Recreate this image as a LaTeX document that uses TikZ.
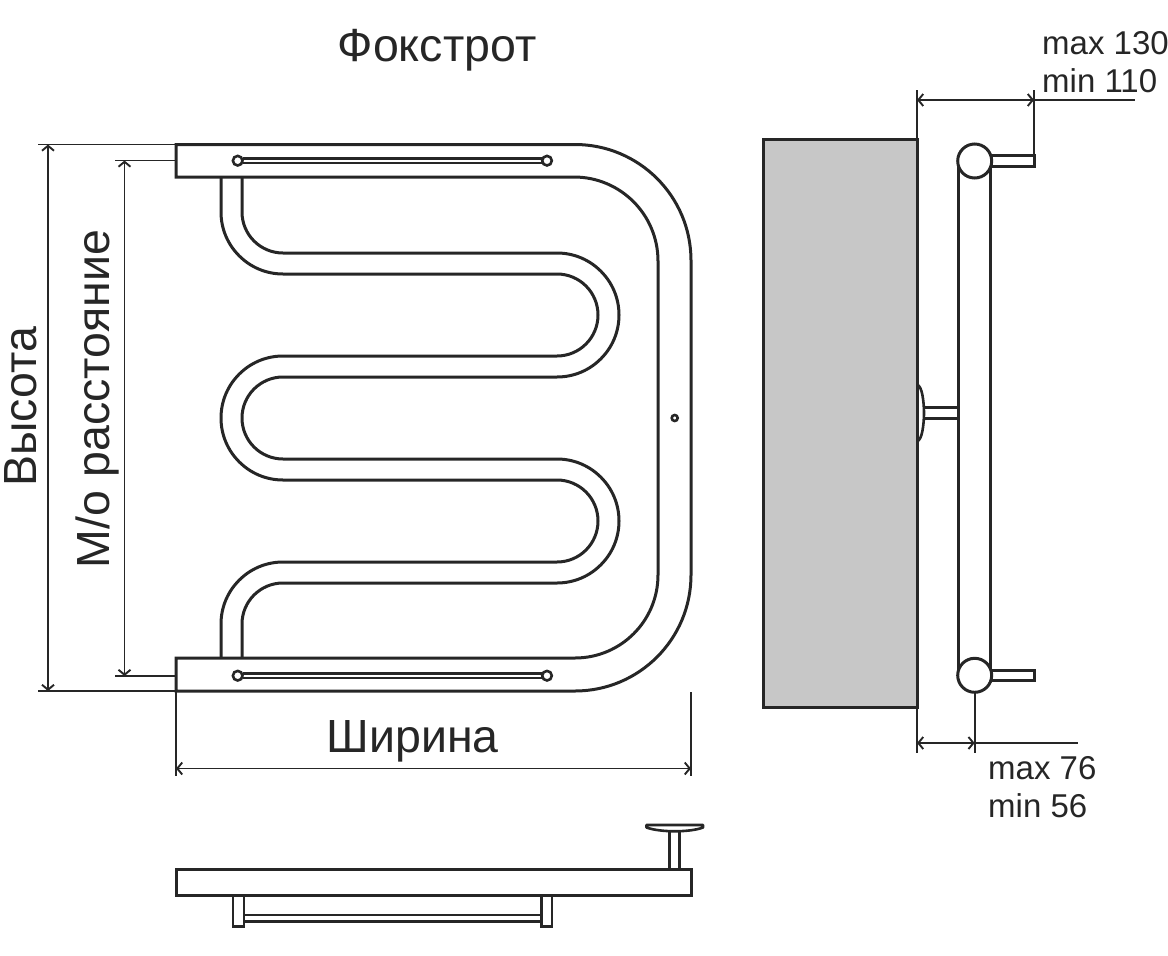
\documentclass[tikz,border=0pt]{standalone}
\usepackage{fontspec}
\setmainfont{Liberation Sans}
\usetikzlibrary{arrows.meta}
\tikzset{
  pipe/.style={line width=3pt,draw=black!85},
  rail/.style={line width=2.6pt,draw=black!85},
  dimline/.style={line width=1.9pt,draw=black!85},
  dimarrow/.style={dimline,{Straight Barb[length=5pt,width=12pt]}-{Straight Barb[length=5pt,width=12pt]}},
  bigtext/.style={font=\fontsize{46.5}{46.5}\selectfont,text=black!85,inner sep=0pt},
  smalltext/.style={font=\fontsize{33}{33}\selectfont,text=black!85,inner sep=0pt,anchor=west},
}
\begin{document}
\begin{tikzpicture}[x=1pt,y=-1pt]
\useasboundingbox (0,0) rectangle (1168,956);
\node [bigtext] (title) at (437,50) {Фокстрот};
\node [bigtext] (width) at (412.5,741) {Ширина};
\node [bigtext,rotate=90] (height) at (21,407) {Высота};
\node [bigtext,rotate=90] (axis) at (97,399) {М/о расстояние};
\node [smalltext] (maxtop) at (1042,43) {max 130};
\node [smalltext] (mintop) at (1042,81) {min 110};
\node [smalltext] (maxbot) at (988,768) {max 76};
\node [smalltext] (minbot) at (988,806) {min 56};

% front view: frame
\draw [pipe] (176,144.5) -- (575,144.5) arc[start angle=-90,end angle=0,radius=116]
  -- (691,575) arc[start angle=0,end angle=90,radius=116] -- (176,691) -- (176,658)
  -- (575,658) arc[start angle=90,end angle=0,radius=83]
  -- (658,261) arc[start angle=0,end angle=-90,radius=84] -- (176,177) -- cycle;

% front view: coil
\draw [pipe] (221,177) -- (221,212) arc[start angle=180,end angle=90,radius=62]
  -- (557,274) arc[start angle=-90,end angle=90,radius=41]
  -- (283,356) arc[start angle=-90,end angle=-270,radius=62]
  -- (557,480) arc[start angle=-90,end angle=90,radius=41]
  -- (283,562) arc[start angle=-90,end angle=-180,radius=62] -- (221,658);
\draw [pipe] (242,177) -- (242,212) arc[start angle=180,end angle=90,radius=41]
  -- (557,253) arc[start angle=-90,end angle=90,radius=62]
  -- (283,377) arc[start angle=-90,end angle=-270,radius=41]
  -- (557,459) arc[start angle=-90,end angle=90,radius=62]
  -- (283,583) arc[start angle=-90,end angle=-180,radius=41] -- (242,658);

% front view: rails
\foreach \y in {160.7,675.7} {
  \draw [rail] (243,\y-2.3) -- (542,\y-2.3);
  \draw [rail] (243,\y+2.3) -- (542,\y+2.3);
  \draw [rail,fill=white] (237.7,\y) circle (4.8);
  \draw [rail,fill=white] (547,\y) circle (4.8);
}
\draw [rail] (674.7,418) circle (3);

% front view: dimensions
\coordinate (heighttop) at (48,144.5);
\coordinate (heightbot) at (48,691);
\coordinate (axistop) at (124.5,160.5);
\coordinate (axisbot) at (124.5,676);
\coordinate (widthleft) at (176,768.5);
\coordinate (widthright) at (691,768.5);
\draw [dimline] (38,144.5) -- (176,144.5);
\draw [dimline] (38,691) -- (176,691);
\draw [dimline] (115,160.5) -- (176,160.5);
\draw [dimline] (115,676) -- (176,676);
\draw [dimline] (176,691) -- (176,776);
\draw [dimline] (691,692) -- (691,776);
\draw [dimarrow] (heighttop) -- (heightbot);
\draw [dimarrow] (axistop) -- (axisbot);
\draw [dimarrow] (widthleft) -- (widthright);

% side view
\draw [pipe,fill=black!22] (763,139) rectangle (917,707);
\draw [rail] (917,385) .. controls (922,385) and (924,402) .. (924,413)
  .. controls (924,424) and (922,441) .. (917,441);
\draw [rail] (924,407.7) -- (958,407.7);
\draw [rail] (924,418.3) -- (958,418.3);
\draw [pipe] (958,161) -- (958,675);
\draw [pipe] (990.7,161) -- (990.7,675);
\draw [pipe] (990,155) -- (1034.5,155) -- (1034.5,166) -- (990,166);
\draw [pipe] (990,670) -- (1034.5,670) -- (1034.5,680.7) -- (990,680.7);
\draw [pipe,fill=white] (974.7,161) circle (17);
\draw [pipe,fill=white] (974.7,675.3) circle (17);

% side view: dimensions
\coordinate (depthleft) at (917,100);
\coordinate (depthright) at (1034,100);
\coordinate (gapleft) at (917,743);
\coordinate (gapright) at (974.7,743);
\draw [dimline] (917,90) -- (917,139);
\draw [dimline] (1034,90) -- (1034,155);
\draw [dimline] (917,707) -- (917,753);
\draw [dimline] (974.7,692) -- (974.7,753);
\draw [dimline] (1034,100) -- (1135,100);
\draw [dimline] (974.7,743) -- (1078,743);
\draw [dimarrow] (depthleft) -- (depthright);
\draw [dimarrow] (gapleft) -- (gapright);

% bottom view
\draw [pipe] (176,869.5) rectangle (691,895.5);
\draw [rail] (233,895.5) -- (233,926.5) -- (244,926.5) -- (244,895.5);
\draw [rail] (541.5,895.5) -- (541.5,926.5) -- (552,926.5) -- (552,895.5);
\draw [rail] (244,915) -- (541.5,915);
\draw [rail] (244,921.7) -- (541.5,921.7);
\draw [rail] (669.3,869.5) -- (669.3,830);
\draw [rail] (679.3,869.5) -- (679.3,830);
\draw [rail,line join=round] (646.5,825) -- (703,825) -- (703,827.5)
  .. controls (690,832.5) and (660,832.5) .. (646.5,827.5) -- cycle;
\end{tikzpicture}
\end{document}
